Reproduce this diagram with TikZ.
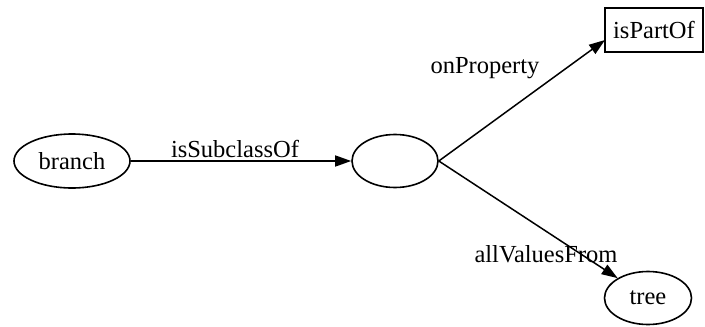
\documentclass[tikz,border=0pt]{standalone}
\usepackage{fontspec}
\setmainfont{Liberation Serif}
\usetikzlibrary{shapes.geometric,arrows.meta}
\begin{document}
\begin{tikzpicture}[x=1pt,y=-1pt,
  every node/.style={font=\fontsize{24.5}{28}\selectfont},
  ell/.style={draw,ellipse,line width=1.6pt,inner sep=0pt},
  boxnode/.style={draw,rectangle,line width=1.6pt,inner sep=0pt},
  edge/.style={line width=1.5pt,-{Triangle[length=16pt,width=11pt]}},
  lbl/.style={inner sep=0pt}]
\useasboundingbox (0,0) rectangle (705,327);
\node[ell,minimum width=116pt,minimum height=54pt] (branch) at (72,161) {branch};
\node[ell,minimum width=86pt,minimum height=53pt] (mid) at (395,161) {};
\node[boxnode,minimum width=98pt,minimum height=44pt] (part) at (654,30) {isPartOf};
\node[ell,minimum width=87pt,minimum height=53pt] (tree) at (648,298) {tree};
\coordinate (partin) at (605,40);
\draw[edge] (branch) -- (mid);
\draw[edge] (mid.east) -- (partin);
\draw[edge] (mid.east) -- (tree);
\node[lbl] (l1) at (235,149) {isSubclassOf};
\node[lbl] (l2) at (485,68) {onProperty};
\node[lbl] (l3) at (546,254) {allValuesFrom};
\end{tikzpicture}
\end{document}
